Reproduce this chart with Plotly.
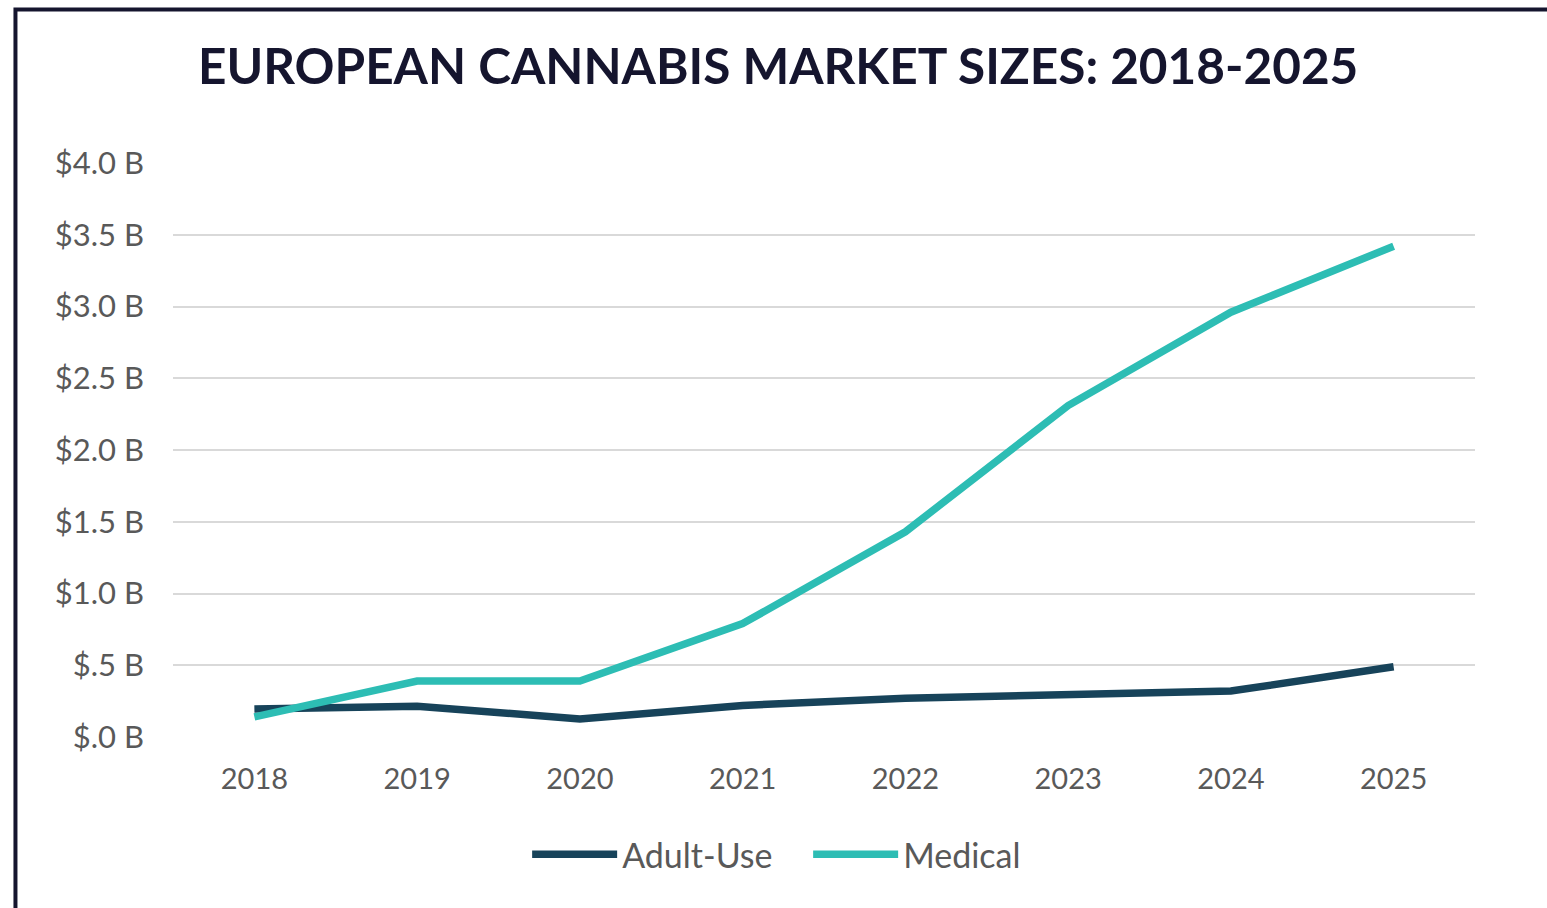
import plotly.graph_objects as go

# Market size estimates, billions of USD
years = [2018, 2019, 2020, 2021, 2022, 2023, 2024, 2025]
adult_use = [0.195, 0.215, 0.125, 0.22, 0.27, 0.30, 0.32, 0.49]
medical = [0.14, 0.39, 0.39, 0.79, 1.43, 2.31, 2.96, 3.42]

y_ticks = [0, 0.5, 1.0, 1.5, 2.0, 2.5, 3.0, 3.5, 4.0]
y_tick_labels = ["$.0 B", "$.5 B", "$1.0 B", "$1.5 B", "$2.0 B",
                 "$2.5 B", "$3.0 B", "$3.5 B", "$4.0 B"]

ADULT_COLOR = "#17435a"
MEDICAL_COLOR = "#2dbdb4"
TEXT_GRAY = "#595959"
NAVY = "#15152e"

fig = go.Figure()
fig.add_trace(go.Scatter(x=years, y=adult_use, name="Adult-Use", mode="lines",
                         line=dict(color=ADULT_COLOR, width=7.5)))
fig.add_trace(go.Scatter(x=years, y=medical, name="Medical", mode="lines",
                         line=dict(color=MEDICAL_COLOR, width=7.5)))

# Frame around the graphic (top and left edges visible)
fig.add_shape(type="rect", xref="paper", yref="paper",
              x0=-0.121, x1=1.3, y0=-0.6, y1=1.2674,
              line=dict(color=NAVY, width=4), fillcolor="rgba(0,0,0,0)",
              layer="above")

fig.update_layout(
    width=1547, height=908,
    margin=dict(l=173, r=72, t=163, b=171),
    paper_bgcolor="white", plot_bgcolor="white",
    title=dict(text="<b>EUROPEAN CANNABIS MARKET SIZES: 2018-2025</b>",
               x=0.503, xanchor="center", y=0.927, yanchor="middle",
               font=dict(family="Lato", size=49.5, color=NAVY)),
    xaxis=dict(range=[2017.5, 2025.5], tickmode="array", tickvals=years,
               ticktext=[str(y) for y in years], showgrid=False,
               zeroline=False, showline=False, ticks="",
               ticklabelstandoff=22,
               tickfont=dict(family="Lato", size=29, color=TEXT_GRAY)),
    yaxis=dict(range=[0, 4.0], tickmode="array", tickvals=y_ticks,
               ticktext=y_tick_labels, showgrid=True, gridcolor="#d9d9d9",
               gridwidth=2, zeroline=False, showline=False, ticks="",
               ticklabelstandoff=28,
               tickfont=dict(family="Lato", size=31, color=TEXT_GRAY)),
    legend=dict(orientation="h", x=0.272, xanchor="left", y=-0.205,
                yanchor="middle", font=dict(family="Lato", size=34, color=TEXT_GRAY),
                itemwidth=85, entrywidth=181, entrywidthmode="pixels"),
    showlegend=True,
)

fig.write_html("out.html")
